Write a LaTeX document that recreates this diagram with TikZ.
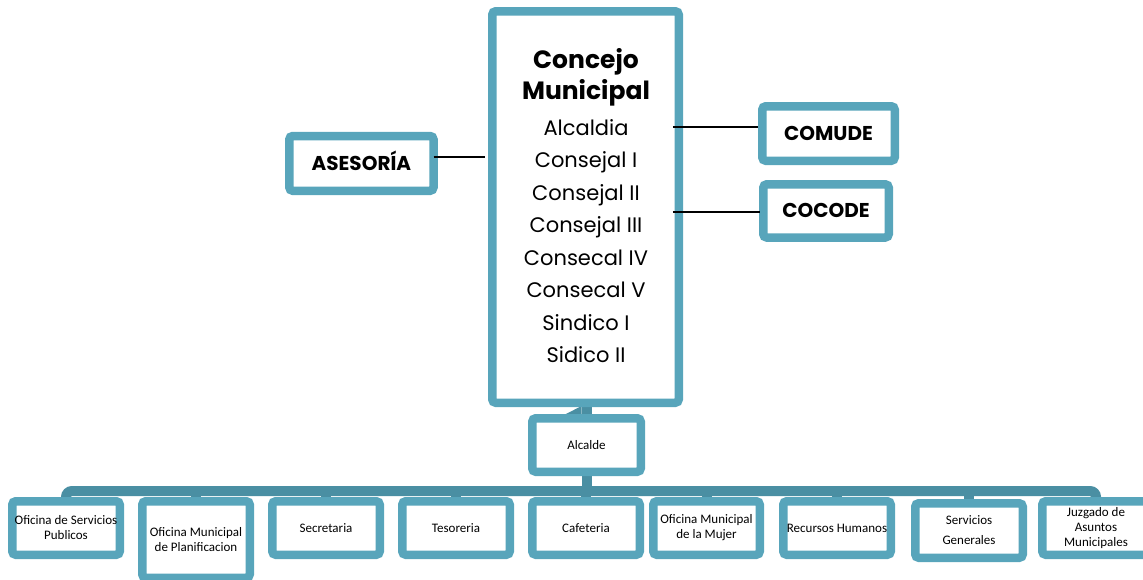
\documentclass[tikz,border=0pt]{standalone}
\usepackage{fontspec}
\setmainfont{Carlito}
\newfontfamily\gothic{Poppins}
\usetikzlibrary{backgrounds}
\definecolor{boxc}{RGB}{88,165,187}
\definecolor{busc}{RGB}{74,143,163}
\tikzset{
  frame/.style={draw=boxc, line width=8.5pt, fill=white, rounded corners=3.5pt, inner sep=0pt, outer sep=0pt},
  unit/.style={frame, minimum width=107.5pt, minimum height=53.5pt, align=center, font=\fontsize{13}{15}\selectfont},
  side/.style={frame, font=\gothic\bfseries\fontsize{20}{24}\selectfont, text height=14pt, text depth=0pt},
  link/.style={draw=black, line width=2pt},
  bus/.style={draw=busc, line width=10pt},
  title/.style={font=\gothic\bfseries\fontsize{25}{30}\selectfont, anchor=base, inner sep=0pt},
  member/.style={font=\gothic\fontsize{21}{25}\selectfont, anchor=base, inner sep=0pt}
}
\begin{document}
\begin{tikzpicture}[x=1pt,y=-1pt]
\useasboundingbox (0,0) rectangle (1143,579);
\clip (0,0) rectangle (1143,579);
% main box
\node[frame, minimum width=186.5pt, minimum height=391.5pt] (main) at (585.5,207) {};
\node[title] (t1) at (586,68.3) {Concejo};
\node[title] (t2) at (586,99.3) {Municipal};
\node[member] (m1) at (586,135) {Alcaldia};
\node[member] (m2) at (586,167.5) {Consejal I};
\node[member] (m3) at (586,200) {Consejal II};
\node[member] (m4) at (586,232.5) {Consejal III};
\node[member] (m5) at (586,265) {Consecal IV};
\node[member] (m6) at (586,297.5) {Consecal V};
\node[member] (m7) at (586,330) {Sindico I};
\node[member] (m8) at (586,362.5) {Sidico II};
% side boxes
\node[side, minimum width=144.2pt, minimum height=54.8pt] (ases) at (361.4,163.4) {ASESORÍA};
\node[side, minimum width=132.5pt, minimum height=54.5pt] (comude) at (828.5,133.5) {COMUDE};
\node[side, minimum width=125.5pt, minimum height=53.2pt] (cocode) at (826,210.9) {COCODE};
% alcalde
\node[unit, minimum width=108.5pt] (alc) at (586.5,445) {Alcalde};
% bottom units
\node[unit] (b1) at (66,528) {Oficina de Servicios\\Publicos};
\node[unit, minimum height=76.5pt] (b2) at (196,539.5) {Oficina Municipal\\de Planificacion};
\node[unit] (b3) at (326,528) {Secretaria};
\node[unit] (b4) at (456,528) {Tesoreria};
\node[unit] (b5) at (586,528) {Cafeteria};
\node[unit, minimum width=106.5pt] (b6) at (706.5,528) {Oficina Municipal\\de la Mujer};
\node[unit] (b7) at (837,528) {Recursos Humanos};
\node[unit, minimum height=54.5pt, font=\fontsize{13}{20}\selectfont] (b8) at (969,530.5) {Servicios\\Generales};
\node[unit] (b9) at (1096,528) {Juzgado de\\Asuntos\\Municipales};
% connectors
\coordinate (busy) at (0,491);
\coordinate (ya) at (0,157);
\coordinate (yc) at (0,127.3);
\coordinate (yd) at (0,212.3);
\begin{scope}[on background layer]
\draw[bus, rounded corners=6pt] (b1.north) |- (b9.north |- busy) -- (b9.north);
\foreach \b in {b2,b3,b4,b6,b7,b8} \draw[bus] (\b.north |- busy) -- (\b.north);
\draw[bus] (alc.north |- main.south) -- (alc.south |- busy);
\draw[bus] (b5.north |- busy) -- (b5.north);
\fill[busc] (565,414.5) -- (581.5,406) -- (581.5,414.5) -- cycle;
\end{scope}
\draw[link, shorten >=7pt] (ases.east |- ya) -- (main.west |- ya);
\draw[link, shorten <=-6pt, shorten >=4.5pt] (main.east |- yc) -- (comude.west |- yc);
\draw[link, shorten <=-6pt, shorten >=3.5pt] (main.east |- yd) -- (cocode.west |- yd);
\end{tikzpicture}
\end{document}
